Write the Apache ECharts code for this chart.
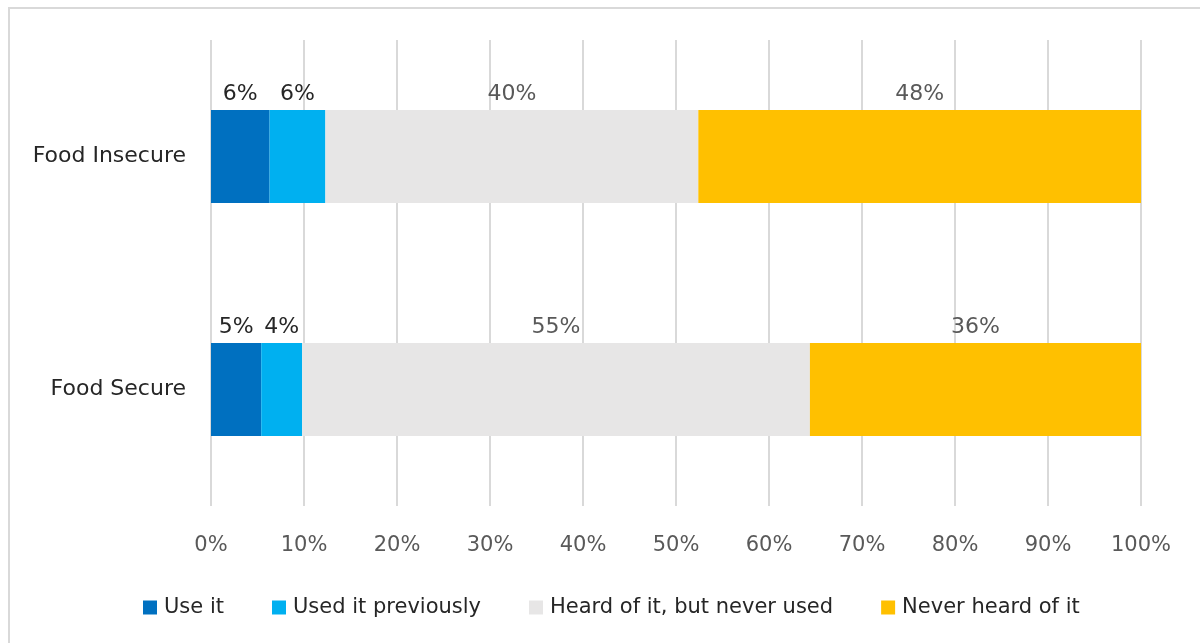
<!DOCTYPE html>
<html>
<head>
<meta charset="utf-8">
<script src="https://cdn.jsdelivr.net/npm/echarts@6/dist/echarts.min.js"></script>
<style>
  html, body { margin: 0; padding: 0; background: #ffffff; }
  #chart { width: 1200px; height: 643px; }
</style>
</head>
<body>
<div id="chart"></div>
<script>
// Awareness / use by food security status (percent of respondents)
const categories = ['Food Insecure', 'Food Secure'];
const seriesNames = ['Use it', 'Used it previously', 'Heard of it, but never used', 'Never heard of it'];
const useIt = [6.3, 5.4];
const usedPreviously = [6.0, 4.4];
const heardNeverUsed = [40.1, 54.6];
const neverHeard = [47.6, 35.6];
const xTicks = [0, 10, 20, 30, 40, 50, 60, 70, 80, 90, 100];

const colors = ['#0070c0', '#00b0f0', '#e7e6e6', '#ffc000'];
const labelColors = ['#262626', '#262626', '#595959', '#595959'];
const values = [useIt, usedPreviously, heardNeverUsed, neverHeard];
const FONT = '"DejaVu Sans", sans-serif';

const chart = echarts.init(document.getElementById('chart'));

chart.setOption({
  backgroundColor: '#ffffff',
  animation: false,
  textStyle: { fontFamily: FONT },
  graphic: [{
    type: 'rect',
    shape: { x: 9, y: 8, width: 1220, height: 700 },
    style: { fill: 'none', stroke: '#d9d9d9', lineWidth: 2 },
    silent: true
  }],
  grid: { left: 211, right: 59, top: 40, bottom: 137 },
  legend: {
    left: 138,
    top: 592,
    itemWidth: 14,
    itemHeight: 14,
    itemGap: 48,
    icon: 'rect',
    data: seriesNames,
    textStyle: { fontFamily: FONT, fontSize: 21, color: '#262626', padding: [0, 0, 0, 2] }
  },
  xAxis: {
    type: 'value',
    min: xTicks[0],
    max: xTicks[xTicks.length - 1],
    interval: 10,
    axisLine: { show: false },
    axisTick: { show: false },
    axisLabel: {
      margin: 29,
      fontFamily: FONT,
      fontSize: 21,
      color: '#595959',
      formatter: v => v + '%'
    },
    splitLine: { lineStyle: { color: '#d9d9d9', width: 2 } }
  },
  yAxis: {
    type: 'category',
    inverse: true,
    data: categories,
    axisLine: { show: false },
    axisTick: { show: false },
    axisLabel: { margin: 25, fontFamily: FONT, fontSize: 22, color: '#262626' }
  },
  series: seriesNames.map((name, i) => ({
    name: name,
    type: 'bar',
    stack: 'total',
    barCategoryGap: '60%',
    data: values[i],
    itemStyle: { color: colors[i] },
    label: {
      show: true,
      position: 'top',
      distance: 5,
      fontFamily: FONT,
      fontSize: 22,
      color: labelColors[i],
      formatter: p => Math.round(p.value) + '%'
    }
  }))
});
</script>
</body>
</html>
